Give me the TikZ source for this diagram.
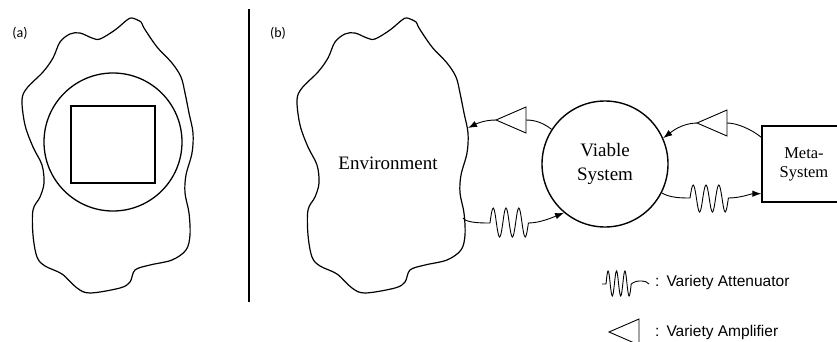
\documentclass[tikz,border=0pt]{standalone}
\usepackage{fontspec}
\setmainfont{Liberation Serif}
\newfontfamily\panelfont{Carlito}
\newfontfamily\legendfont{Liberation Sans}
\usepackage{tikz}
\usetikzlibrary{calc}
\usetikzlibrary{arrows.meta}
\tikzset{blob/.style={line width=1.2pt, line join=round},
  conn/.style={line width=.9pt},
  >={Latex[length=9pt,width=6.5pt]},
  amplifier/.pic={\draw[line width=.9pt] (0,0) -- (30,-13) -- (30,13) -- cycle;
    \coordinate (-apex) at (0,0); \coordinate (-base) at (30,0);}}
\newcommand{\blobpath}{plot[smooth cycle, tension=.55] coordinates {(132,18) (141,22) (144,28) (157,47) (172,63) (181,77) (185,93) (189,113) (193,133) (192,153) (186,175) (185,193) (189,213) (190,235) (186,250) (172,260) (150,265) (135,270) (130,282) (120,288) (90,293) (77,288) (62,274) (45,266) (37,257) (33,235) (33,210) (40,197) (44,183) (42,165) (33,147) (25,125) (22,100) (27,88) (43,72) (53,58) (60,42) (70,34) (80,33) (92,38) (100,39) (115,30) (127,20)}}

\begin{document}
\begin{tikzpicture}[x=1pt, y=-1pt]
\useasboundingbox (0,0) rectangle (837,342);
\clip (0,0) rectangle (837,342);
\node[font=\panelfont\fontsize{14}{16}\selectfont] (panela) at (20,33) {(a)};
\node[font=\panelfont\fontsize{14}{16}\selectfont] (panelb) at (278,33) {(b)};
\draw[blob] \blobpath;
\draw[line width=1.3pt] (113,142) circle (69);
\draw[line width=1.3pt] (71,106) rectangle (155,183);
\draw[line width=1.2pt] (249,9) -- (249,302);
\begin{scope}[xshift=275]
\draw[blob] \blobpath;
\end{scope}
\node[font=\fontsize{19}{23}\selectfont] (env) at (388,163) {Environment};
\node[draw, circle, line width=1.4pt, minimum size=126pt, inner sep=0, align=center, font=\fontsize{19}{24}\selectfont] (vs) at (605,164) {Viable\\System};
\node[draw, line width=1.4pt, minimum width=84pt, minimum height=76pt, align=center, font=\fontsize{16.5}{19}\selectfont] (meta) at (804,164) {Meta-\\System};
\coordinate (envR) at (468,128);
\coordinate (envS) at (463,218);
\coordinate (metaA) at ($(meta.north west)+(0,12)$);
\coordinate (metaB) at ($(meta.south west)+(0,-9)$);
\coordinate (waveE) at (490,223);
\coordinate (waveM) at (690,198);
\pic (ampE) at (496,120) {amplifier};
\pic (ampM) at (697,123) {amplifier};
\draw[conn] (vs.147) .. controls +(-8,-6) and +(10,0) .. (ampE-base);
\draw[conn,->] (ampE-apex) .. controls +(-12,0) and +(8,-4) .. (envR);
\draw[conn] (metaA) .. controls +(-10,-8) and +(10,0) .. (ampM-base);
\draw[conn,->] (ampM-apex) .. controls +(-15,0) and +(8,-6) .. (vs.24);
\draw[conn,->] (envS) .. controls +(3,5) and +(-8,0) .. (waveE) foreach \i in {1,2,3} {sin ++(3.2,-15) cos ++(3.2,15) sin ++(3.2,14) cos ++(3.2,-14)} .. controls +(12,0) and +(-10,4) .. (vs.230);
\draw[conn,->] (vs.-27) .. controls +(8,5) and +(-8,0) .. (waveM) foreach \i in {1,2,3} {sin ++(3.2,-13) cos ++(3.2,13) sin ++(3.2,14) cos ++(3.2,-14)} .. controls +(12,0) and +(-10,0) .. (metaB);
\draw[conn] (602,284) -- (606,284) foreach \i in {1,2,3} {sin ++(2.1,-13) cos ++(2.1,13) sin ++(2.1,12) cos ++(2.1,-12)} .. controls (635,281) and (638,281) .. (642,281) .. controls (645,281) and (647,282) .. (649,284);
\pic (ampL) at (609,332) {amplifier};
\node[anchor=west, inner sep=0, font=\legendfont\fontsize{15.5}{18}\selectfont] (attlabel) at (655,282) {:\hspace{7pt}Variety Attenuator};
\node[anchor=west, inner sep=0, font=\legendfont\fontsize{15.5}{18}\selectfont] (amplabel) at (655,332) {:\hspace{7pt}Variety Amplifier};
\end{tikzpicture}
\end{document}
